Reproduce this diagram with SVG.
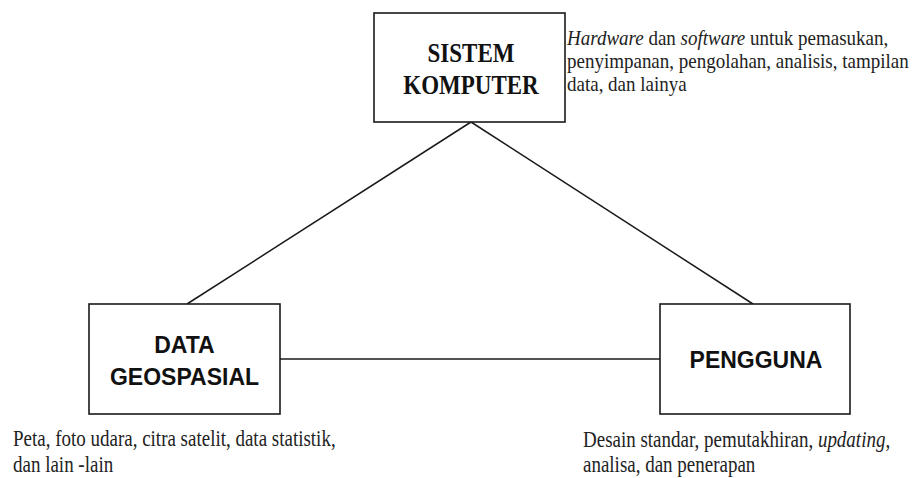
<svg xmlns="http://www.w3.org/2000/svg" width="912" height="478" viewBox="0 0 912 478">
<style>
.box{fill:#fff;stroke:#1a1a1a;stroke-width:1.6}
.con{stroke:#1a1a1a;stroke-width:1.5;fill:none}
.ts{font-family:"Liberation Serif","Times New Roman",serif;font-weight:bold;font-size:23px;fill:#111;text-anchor:middle}
.tb{font-family:"Liberation Sans",Arial,sans-serif;font-weight:bold;font-size:23px;fill:#111;text-anchor:middle}
.cap{font-family:"Liberation Serif","Times New Roman",serif;font-size:19px;fill:#222}
</style>
<rect width="912" height="478" fill="#fff"/>
<g id="connectors">
<line class="con" x1="471" y1="122" x2="187" y2="304"/>
<line class="con" x1="471" y1="122" x2="753" y2="304"/>
<line class="con" x1="280" y1="359" x2="660" y2="359"/>
</g>
<g id="sistem-komputer">
<rect class="box" x="374" y="13" width="191" height="109"/>
<text class="ts" transform="translate(471,62) scale(1,1.15)">SISTEM</text>
<text class="ts" transform="translate(471,94) scale(1,1.15)">KOMPUTER</text>
</g>
<g id="data-geospasial">
<rect class="box" x="89" y="304" width="191" height="110"/>
<text class="tb" transform="translate(184.5,353) scale(1,1.05)">DATA</text>
<text class="tb" transform="translate(184.5,385) scale(1,1.05)">GEOSPASIAL</text>
</g>
<g id="pengguna">
<rect class="box" x="660" y="304" width="190" height="110"/>
<text class="tb" x="756" y="368">PENGGUNA</text>
</g>
<g id="labels">
<text class="cap" transform="translate(567,45) scale(1,1.05)"><tspan font-style="italic">Hardware</tspan> dan <tspan font-style="italic">software</tspan> untuk pemasukan,</text>
<text class="cap" transform="translate(567,68) scale(1,1.05)">penyimpanan, pengolahan, analisis, tampilan</text>
<text class="cap" transform="translate(567,91) scale(1,1.05)">data, dan lainya</text>
<text class="cap" transform="translate(13,446) scale(1,1.2)">Peta, foto udara, citra satelit, data statistik,</text>
<text class="cap" transform="translate(13,472) scale(1,1.2)">dan lain -lain</text>
<text class="cap" transform="translate(583,447) scale(1,1.2)">Desain standar, pemutakhiran, <tspan font-style="italic">updating</tspan>,</text>
<text class="cap" transform="translate(583,472) scale(1,1.2)">analisa, dan penerapan</text>
</g>
</svg>
